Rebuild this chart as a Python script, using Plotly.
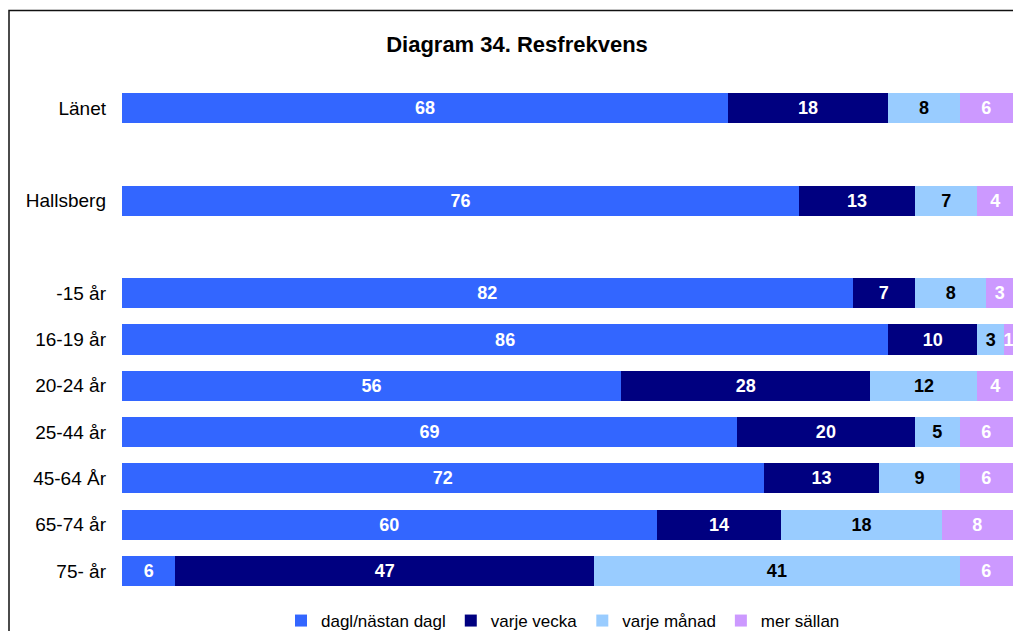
import plotly.graph_objects as go

categories = ["Länet", " ", "Hallsberg", "  ", "-15 år", "16-19 år", "20-24 år",
              "25-44 år", "45-64 År", "65-74 år", "75- år"]
series_names = ["dagl/nästan dagl", "varje vecka", "varje månad", "mer sällan"]
dagl = [68, None, 76, None, 82, 86, 56, 69, 72, 60, 6]
vecka = [18, None, 13, None, 7, 10, 28, 20, 13, 14, 47]
manad = [8, None, 7, None, 8, 3, 12, 5, 9, 18, 41]
sallan = [6, None, 4, None, 3, 1, 4, 6, 6, 8, 6]

colors = ["#3366FF", "#000080", "#99CCFF", "#CC99FF"]
text_colors = ["white", "white", "black", "white"]

W, H = 1013, 631
ml, mr, mt, mb = 122, 0, 85, 37
pw, ph = W - ml - mr, H - mt - mb
FONT = "Liberation Sans, Arial, sans-serif"

fig = go.Figure()
for name, vals, c, tc in zip(series_names, [dagl, vecka, manad, sallan], colors, text_colors):
    fig.add_trace(go.Bar(
        y=categories, x=vals, name=name, orientation="h",
        marker=dict(color=c, line=dict(width=0)),
        text=[("" if v is None else str(v)) for v in vals],
        textposition="inside", insidetextanchor="middle", textangle=0,
        textfont=dict(family=FONT, size=18, color=tc, weight="bold"),
        hoverinfo="skip",
    ))

fig.update_layout(
    width=W, height=H,
    barmode="stack", bargap=0.35,
    margin=dict(l=ml, r=mr, t=mt, b=mb, autoexpand=False),
    paper_bgcolor="white", plot_bgcolor="white",
    font=dict(family=FONT, size=17, color="black"),
    title=dict(text="<b>Diagram 34. Resfrekvens</b>", x=(517 - ml) / pw, xref="paper",
               xanchor="center", y=1 - 44 / H, yanchor="middle",
               font=dict(size=22, color="black")),
    uniformtext=dict(mode="show", minsize=18),
    showlegend=True,
    legend=dict(orientation="h", x=(563 - ml) / pw, xanchor="center",
                yref="container", y=1 - 621 / H, yanchor="middle",
                font=dict(size=17), itemwidth=30, traceorder="normal",
                tracegroupgap=0, itemclick=False),
    xaxis=dict(range=[0, 100], visible=False, showgrid=False, zeroline=False, fixedrange=True),
    yaxis=dict(categoryorder="array", categoryarray=categories, autorange="reversed",
               showgrid=False, zeroline=False, showline=False, ticks="",
               ticklabelstandoff=15, tickfont=dict(size=19, color="black"), fixedrange=True),
    shapes=[dict(type="rect", xref="paper", yref="paper",
                 x0=(9 - ml) / pw, x1=1.2,
                 y0=-0.3, y1=(mt + ph - 10.5) / ph,
                 line=dict(color="#111111", width=1.5), fillcolor="rgba(0,0,0,0)", layer="above")],
)

fig.write_html("out.html", config=dict(displayModeBar=False, staticPlot=True),
               post_script="document.body.style.margin='0';document.body.style.overflow='hidden';")
